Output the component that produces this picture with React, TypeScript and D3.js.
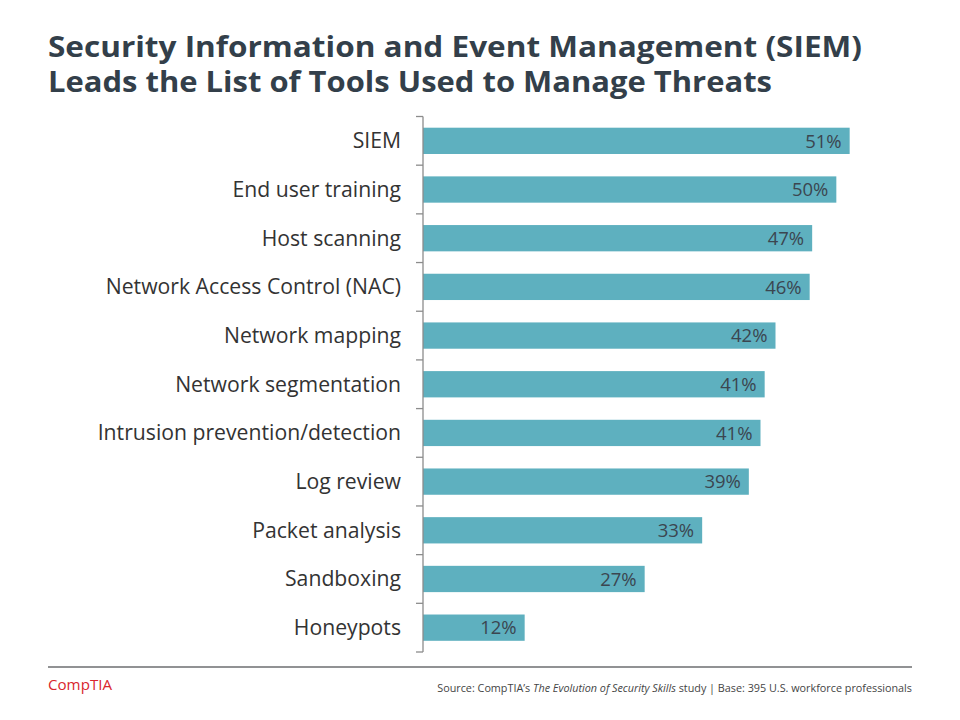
import React from "react";
import * as d3 from "d3";

const categories = [
  "SIEM",
  "End user training",
  "Host scanning",
  "Network Access Control (NAC)",
  "Network mapping",
  "Network segmentation",
  "Intrusion prevention/detection",
  "Log review",
  "Packet analysis",
  "Sandboxing",
  "Honeypots",
];
const values = [51.2, 49.6, 46.7, 46.4, 42.3, 41.0, 40.5, 39.1, 33.5, 26.6, 12.2];
const valueLabels = ["51%", "50%", "47%", "46%", "42%", "41%", "41%", "39%", "33%", "27%", "12%"];

const W = 960;
const H = 720;
const axisX = 423;
const top = 116.5;
const bottom = 652;

export default function App() {
  const x = d3.scaleLinear().domain([0, 60]).range([axisX, axisX + 500]);
  const y = d3.scaleBand<string>().domain(categories).range([top, bottom]).paddingInner(0.46).paddingOuter(0.23);
  const tickYs = d3.range(categories.length + 1).map((i) => top + (i * (bottom - top)) / categories.length);
  const barColor = "#5eb0bf";
  return (
    <svg width={W} height={H} style={{ position: "absolute", left: 0, top: 0 }}>
      <rect width={W} height={H} fill="#fff" />
      <g fontFamily="'Open Sans', sans-serif" fontWeight={700} fill="#333f4a" fontSize={28.5}>
        <text x={48} y={57} textLength={814} lengthAdjust="spacingAndGlyphs">Security Information and Event Management (SIEM)</text>
        <text x={48} y={92} textLength={724} lengthAdjust="spacingAndGlyphs">Leads the List of Tools Used to Manage Threats</text>
      </g>
      {categories.map((c, i) => (
        <g key={c}>
          <rect x={x(0)} y={y(c)!} width={x(values[i]) - x(0)} height={y.bandwidth()} fill={barColor} />
          <text
            x={x(values[i]) - 8}
            y={y(c)! + y.bandwidth() / 2}
            dy="0.36em"
            textAnchor="end"
            fontFamily="'Open Sans', sans-serif"
            fontSize={18.5}
            fill="#3b4650"
          >
            {valueLabels[i]}
          </text>
          <text
            x={401}
            y={y(c)! + y.bandwidth() / 2}
            dy="0.35em"
            textAnchor="end"
            fontFamily="'Open Sans', sans-serif"
            fontSize={21.2}
            fill="#333"
          >
            {c}
          </text>
        </g>
      ))}
      <line x1={axisX} x2={axisX} y1={top} y2={bottom} stroke="#8c8c8c" strokeWidth={1.3} />
      {tickYs.map((t, i) => (
        <line key={i} x1={axisX - 7} x2={axisX} y1={t} y2={t} stroke="#8c8c8c" strokeWidth={1.3} />
      ))}
      <line x1={48} x2={912} y1={667} y2={667} stroke="#6d6e71" strokeWidth={1.3} />
      <text x={48} y={690} fontFamily="'Open Sans', sans-serif" fontSize={14.5} fill="#d9262e" textLength={64} lengthAdjust="spacingAndGlyphs">
        CompTIA
      </text>
      <text x={912} y={692} textAnchor="end" fontFamily="'Open Sans', sans-serif" fontSize={10.8} fill="#444">
        Source: CompTIA’s <tspan fontStyle="italic">The Evolution of Security Skills</tspan> study | Base: 395 U.S. workforce professionals
      </text>
    </svg>
  );
}
